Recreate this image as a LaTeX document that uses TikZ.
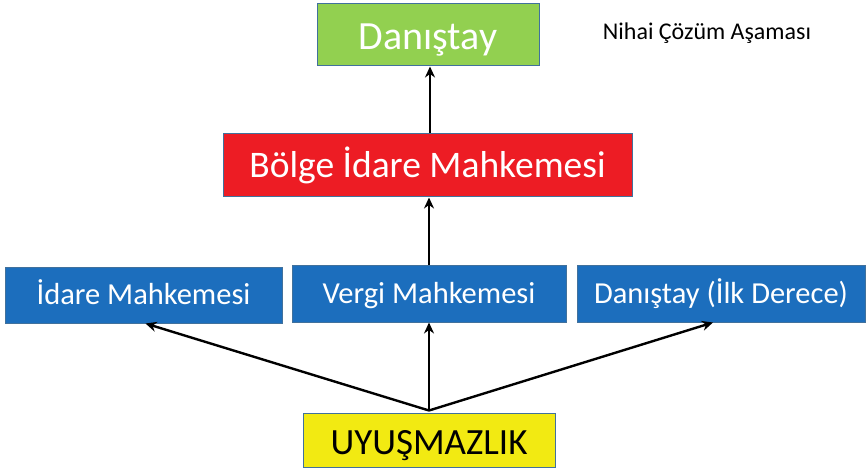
\documentclass[tikz,border=0pt]{standalone}
\usepackage{fontspec}
\setmainfont{Carlito}
\usetikzlibrary{arrows.meta,calc}
\definecolor{bgreen}{HTML}{92D050}
\definecolor{bred}{HTML}{ED1C24}
\definecolor{bblue}{HTML}{1C6EBD}
\definecolor{byellow}{HTML}{F2EA12}
\definecolor{bborder}{HTML}{41719C}
\tikzset{
  x=1pt,y=-1pt,
  box/.style={draw=bborder,line width=1pt,inner sep=0pt,anchor=center,text depth=0pt},
  conn/.style={line width=2.4pt,-{Stealth[length=11pt,width=10pt]}},
}
\begin{document}
\begin{tikzpicture}
\useasboundingbox (0,0) rectangle (868,468);
\node[box,fill=bgreen,minimum width=222pt,minimum height=62pt,text=white,text height=30pt,font=\fontsize{40}{44}\selectfont] (dan) at (428,35) {Danıştay};
\node[font=\fontsize{24}{28}\selectfont] (nihai) at (707,33) {Nihai Çözüm Aşaması};
\node[box,fill=bred,minimum width=409pt,minimum height=63pt,text=white,text height=23.7pt,font=\fontsize{37.5}{42}\selectfont] (bolge) at (427.5,165.5) {Bölge İdare Mahkemesi};
\node[box,fill=bblue,minimum width=277pt,minimum height=56pt,text=white,text height=18.3pt,font=\fontsize{30.5}{34}\selectfont] (idare) at (143.5,295) {İdare Mahkemesi};
\node[box,fill=bblue,minimum width=274pt,minimum height=57pt,text=white,text height=19.3pt,font=\fontsize{30.5}{34}\selectfont] (vergi) at (429,293.5) {Vergi Mahkemesi};
\node[box,fill=bblue,minimum width=288pt,minimum height=57pt,text=white,text height=19.3pt,font=\fontsize{30.5}{34}\selectfont] (dil) at (721,293.5) {Danıştay (İlk Derece)};
\node[box,fill=byellow,minimum width=252pt,minimum height=54pt,text=black,text height=28.4pt,font=\fontsize{37}{42}\selectfont] (uyus) at (429,440) {UYUŞMAZLIK};
\coordinate (src) at ($(uyus.north)+(0,-2)$);
\draw[conn] (bolge.north -| dan.south) ++(2,0) -- ($(dan.south)+(2,0)$);
\draw[conn] (vergi.north) -- (vergi.north |- bolge.south);
\draw[conn] (src) -- (vergi.south);
\draw[conn] (src) -- ($(idare.south)+(2,0)$);
\draw[conn] (src) -- ($(dil.south)+(-8,0)$);
\end{tikzpicture}
\end{document}
